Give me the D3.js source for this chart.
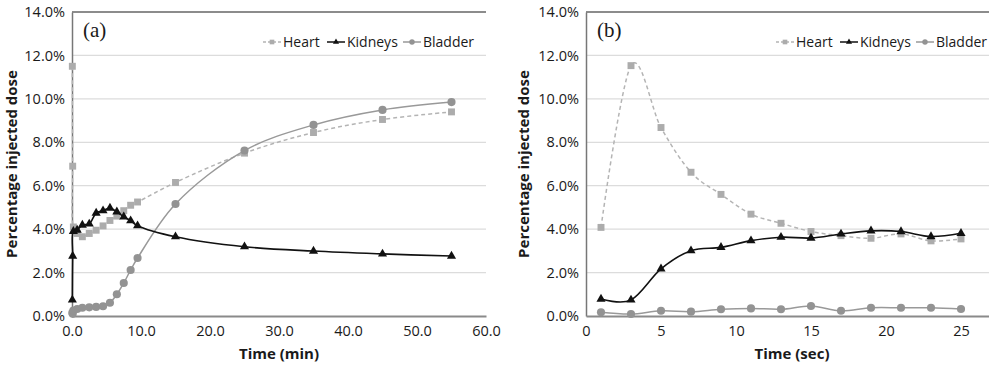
<!DOCTYPE html>
<html>
<head>
<meta charset="utf-8">
<script src="https://cdn.jsdelivr.net/npm/d3@7"></script>
<style>
  body { margin: 0; background: #fff; }
  text { font-family: "Open Sans", sans-serif; fill: #1a1a1a; }
</style>
</head>
<body>
<div id="chart"></div>
<script>
// panel (a): time in minutes
var timeMin = [0.05, 0.1, 0.2, 0.75, 1.5, 2.5, 3.5, 4.5, 5.5, 6.5, 7.5, 8.5, 9.5, 15, 25, 35, 45, 55];
var heartA = [11.5, 6.9, 4.1, 3.8, 3.65, 3.8, 3.95, 4.15, 4.4, 4.6, 4.85, 5.1, 5.25, 6.15, 7.5, 8.45, 9.05, 9.4];
var kidneysA = [0.74, 2.76, 3.9, 3.96, 4.19, 4.24, 4.74, 4.85, 4.97, 4.8, 4.57, 4.39, 4.16, 3.65, 3.19, 2.99, 2.86, 2.76];
var bladderA = [0.15, 0.1, 0.25, 0.32, 0.38, 0.4, 0.42, 0.45, 0.61, 1.0, 1.52, 2.12, 2.67, 5.16, 7.62, 8.8, 9.49, 9.85];

// panel (b): time in seconds
var timeSec = [1, 3, 5, 7, 9, 11, 13, 15, 17, 19, 21, 23, 25];
var heartB = [4.08, 11.53, 8.68, 6.62, 5.6, 4.69, 4.27, 3.89, 3.7, 3.58, 3.78, 3.46, 3.55];
var kidneysB = [0.78, 0.74, 2.17, 3.01, 3.16, 3.47, 3.63, 3.59, 3.78, 3.92, 3.89, 3.66, 3.81];
var bladderB = [0.17, 0.09, 0.24, 0.2, 0.31, 0.35, 0.31, 0.46, 0.24, 0.38, 0.38, 0.38, 0.32];

var yTicks = [0, 2, 4, 6, 8, 10, 12, 14];
var xTicksA = [0, 10, 20, 30, 40, 50, 60];
var xTicksB = [0, 5, 10, 15, 20, 25];
var seriesNames = ["Heart", "Kidneys", "Bladder"];

var W = 989, H = 369;

var svg = d3.select("#chart")
    .append("svg")
    .attr("width", W)
    .attr("height", H);

svg.append("rect").attr("width", W).attr("height", H).attr("fill", "#fff");

var style = {
    Heart: { stroke: "#b4b4b4", dash: "4,3", fill: "#acacac", shape: d3.symbolSquare, size: 48 },
    Kidneys: { stroke: "#111", dash: null, fill: "#111", shape: d3.symbolTriangle, size: 36 },
    Bladder: { stroke: "#999", dash: null, fill: "#939393", shape: d3.symbolCircle, size: 52 }
};

function drawPanel(opt) {
    var x = d3.scaleLinear().domain(opt.xDomain).range(opt.xRange);
    var y = d3.scaleLinear().domain([0, 14]).range([316, 12]);
    var g = svg.append("g");
    var right = Math.min(opt.xRange[1], W);

    // gridlines
    g.selectAll(".grid")
        .data(yTicks.filter(function (d) { return d > 0 && d < 14; }))
        .enter()
        .append("line")
        .attr("x1", opt.xRange[0]).attr("x2", right)
        .attr("y1", function (d) { return y(d); })
        .attr("y2", function (d) { return y(d); })
        .attr("stroke", "#dcdcdc")
        .attr("stroke-width", 1.3);

    // top border
    g.append("line")
        .attr("x1", opt.xRange[0]).attr("x2", right)
        .attr("y1", y(14)).attr("y2", y(14))
        .attr("stroke", "#666").attr("stroke-width", 1.5);

    // y axis
    var yAxis = g.append("g")
        .attr("transform", "translate(" + opt.xRange[0] + ",0)")
        .call(d3.axisLeft(y).tickValues(yTicks).tickSize(0).tickPadding(7)
            .tickFormat(function (d) { return d3.format(".1f")(d) + "%"; }));
    yAxis.select(".domain").attr("stroke", "#777").attr("stroke-width", 1.5);
    yAxis.selectAll("text").attr("font-size", 14.5).attr("font-family", "Open Sans");

    // x axis
    var xAxis = g.append("g")
        .attr("transform", "translate(0,316)")
        .call(d3.axisBottom(x).tickValues(opt.xTicks).tickSize(0).tickPadding(10)
            .tickFormat(opt.xFormat));
    xAxis.select(".domain").attr("stroke", "#8a8a8a").attr("stroke-width", 2.2);
    xAxis.selectAll("text").attr("font-size", 14.5).attr("font-family", "Open Sans");

    // axis titles
    g.append("text")
        .attr("text-anchor", "middle")
        .attr("x", opt.titleX)
        .attr("y", 359)
        .attr("font-size", 15)
        .attr("font-weight", "bold")
        .text(opt.xTitle);

    g.append("text")
        .attr("text-anchor", "middle")
        .attr("transform", "translate(" + opt.yTitleX + ",164) rotate(-90)")
        .attr("font-size", 15)
        .attr("font-weight", "bold")
        .text("Percentage injected dose");

    // panel letter
    g.append("text")
        .attr("x", opt.xRange[0] + 11)
        .attr("y", 37)
        .attr("font-size", 21)
        .style("font-family", "'Liberation Serif', serif")
        .text(opt.letter);

    // series
    var line = d3.line()
        .x(function (d) { return x(d[0]); })
        .y(function (d) { return y(d[1]); })
        .curve(opt.curve);

    opt.series.forEach(function (s) {
        var st = style[s.name];
        var pts = opt.times.map(function (t, i) { return [t, s.values[i]]; });
        g.append("path")
            .datum(pts)
            .attr("fill", "none")
            .attr("stroke", st.stroke)
            .attr("stroke-width", s.name === "Kidneys" ? 1.6 : 1.5)
            .attr("stroke-dasharray", st.dash)
            .attr("d", line);

        g.selectAll(".m" + s.name)
            .data(pts)
            .enter()
            .append("path")
            .attr("transform", function (d) { return "translate(" + x(d[0]) + "," + y(d[1]) + ")"; })
            .attr("d", d3.symbol().type(st.shape).size(st.size))
            .attr("fill", st.fill);
    });

    // legend
    var legend = g.append("g").attr("transform", "translate(" + opt.legendX + ",42)");
    var offsets = [0, 64, 140];
    seriesNames.forEach(function (name, i) {
        var st = style[name];
        var item = legend.append("g").attr("transform", "translate(" + offsets[i] + ",0)");
        item.append("line")
            .attr("x1", 0).attr("x2", 18)
            .attr("y1", 0).attr("y2", 0)
            .attr("stroke", st.stroke)
            .attr("stroke-width", 1.5)
            .attr("stroke-dasharray", name === "Heart" ? "3,2" : null);
        item.append("path")
            .attr("transform", "translate(9,0)")
            .attr("d", d3.symbol().type(st.shape).size(st.size * 0.45))
            .attr("fill", st.fill);
        item.append("text")
            .attr("x", 20)
            .attr("y", 0)
            .attr("dy", "0.35em")
            .attr("font-size", 14)
            .text(name);
    });
}

drawPanel({
    xDomain: [0, 60], xRange: [72, 486], xTicks: xTicksA,
    xFormat: d3.format(".1f"), xTitle: "Time (min)", titleX: 279,
    yTitleX: 17, letter: "(a)", legendX: 263, times: timeMin,
    curve: d3.curveCatmullRom.alpha(0.5),
    series: [
        { name: "Heart", values: heartA },
        { name: "Bladder", values: bladderA },
        { name: "Kidneys", values: kidneysA }
    ]
});

drawPanel({
    xDomain: [0, 30], xRange: [586, 1036], xTicks: xTicksB,
    xFormat: d3.format("d"), xTitle: "Time (sec)", titleX: 792,
    yTitleX: 529, letter: "(b)", legendX: 776, times: timeSec,
    curve: d3.curveCatmullRom.alpha(0),
    series: [
        { name: "Heart", values: heartB },
        { name: "Bladder", values: bladderB },
        { name: "Kidneys", values: kidneysB }
    ]
});
</script>
</body>
</html>
